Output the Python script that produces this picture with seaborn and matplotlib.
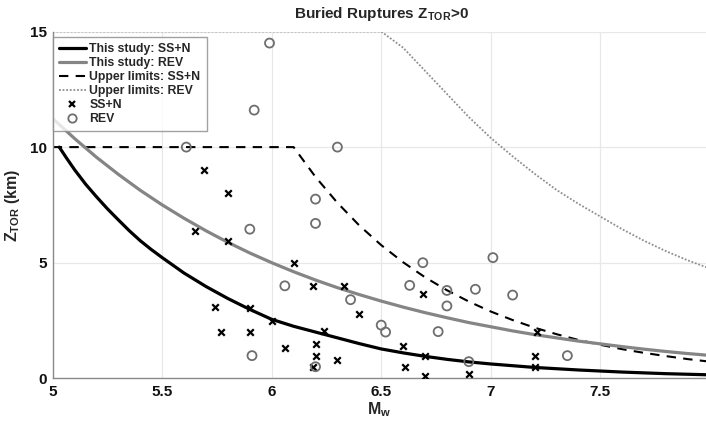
import matplotlib
matplotlib.use("Agg")
import matplotlib.pyplot as plt
import seaborn as sns
import pandas as pd
from matplotlib.lines import Line2D

# ---------------- data ----------------
ss_curve_m = [5.03, 5.06, 5.1, 5.15, 5.2, 5.25, 5.3, 5.35, 5.4, 5.45, 5.5, 5.6, 5.7, 5.8, 5.9,
              6.0, 6.1, 6.2, 6.3, 6.4, 6.5, 6.6, 6.7, 6.8, 6.9, 7.0, 7.2, 7.4, 7.6, 7.8, 8.0]
ss_curve_z = [10.0, 9.57, 9.02, 8.4, 7.85, 7.33, 6.85, 6.38, 5.95, 5.57, 5.22, 4.55, 3.97, 3.45,
              2.98, 2.55, 2.25, 2.0, 1.75, 1.5, 1.27, 1.1, 0.95, 0.82, 0.71, 0.62, 0.47, 0.36,
              0.27, 0.20, 0.15]

rev_curve_m = [5.0, 5.1, 5.2, 5.3, 5.4, 5.5, 5.6, 5.7, 5.8, 5.9, 6.0, 6.1, 6.2, 6.3, 6.4, 6.5,
               6.6, 6.7, 6.8, 6.9, 7.0, 7.1, 7.2, 7.3, 7.4, 7.5, 7.6, 7.7, 7.8, 7.9, 8.0]
rev_curve_z = [11.24, 10.37, 9.56, 8.82, 8.13, 7.50, 6.92, 6.38, 5.88, 5.42, 5.00, 4.61, 4.25, 3.92,
               3.62, 3.34, 3.08, 2.84, 2.62, 2.41, 2.23, 2.05, 1.89, 1.75, 1.61, 1.49, 1.37, 1.26,
               1.16, 1.07, 0.99]

ss_limit_m = [5.0, 6.1, 6.2, 6.3, 6.4, 6.5, 6.6, 6.7, 6.8, 6.9, 7.0, 7.1, 7.2, 7.3, 7.4, 7.5,
              7.6, 7.7, 7.8, 7.9, 8.0]
ss_limit_z = [10.0, 10.0, 8.71, 7.59, 6.61, 5.76, 5.02, 4.37, 3.81, 3.32, 2.89, 2.52, 2.19, 1.91,
              1.66, 1.45, 1.26, 1.10, 0.96, 0.83, 0.72]

rev_limit_m = [5.0, 6.5, 6.6, 6.7, 6.8, 6.9, 7.0, 7.1, 7.2, 7.3, 7.4, 7.5, 7.6, 7.7, 7.8, 7.9, 8.0]
rev_limit_z = [15.0, 15.0, 14.3, 13.3, 12.3, 11.3, 10.4, 9.6, 8.85, 8.15, 7.55, 7.0, 6.45, 5.95,
               5.5, 5.1, 4.75]

ss_pts_m = [5.69, 5.80, 5.65, 5.80, 6.10, 5.74, 5.90, 6.00, 5.77, 5.90, 6.06, 6.19, 6.33, 6.40,
            6.24, 6.20, 6.20, 6.30, 6.19, 6.69, 6.60, 6.70, 6.61, 6.70, 6.90, 7.21, 7.20, 7.20]
ss_pts_z = [9.0, 8.0, 6.35, 5.95, 5.0, 3.08, 3.03, 2.5, 2.0, 2.0, 1.32, 4.0, 4.0, 2.8,
            2.04, 1.48, 0.98, 0.79, 0.50, 3.65, 1.38, 0.98, 0.49, 0.08, 0.19, 2.02, 0.98, 0.50]

rev_pts_m = [5.99, 5.92, 5.61, 6.30, 6.20, 6.20, 5.90, 6.06, 5.91, 6.69, 6.63, 6.80, 6.93, 7.01,
             7.10, 6.80, 6.36, 6.50, 6.52, 6.76, 6.90, 7.35, 6.20]
rev_pts_z = [14.5, 11.6, 10.0, 10.0, 7.75, 6.7, 6.45, 4.0, 0.98, 5.0, 4.02, 3.8, 3.85, 5.22,
             3.6, 3.13, 3.4, 2.3, 2.0, 2.02, 0.72, 0.98, 0.5]

legend_labels = ["This study: SS+N", "This study: REV", "Upper limits: SS+N",
                 "Upper limits: REV", "SS+N", "REV"]
x_ticks = [5, 5.5, 6, 6.5, 7, 7.5]
x_tick_labels = ["5", "5.5", "6", "6.5", "7", "7.5"]
y_ticks = [0, 5, 10, 15]

# ---------------- style ----------------
sns.set_style("white")
plt.rcParams["font.family"] = ["Liberation Sans", "DejaVu Sans"]
plt.rcParams["font.weight"] = "bold"
plt.rcParams["mathtext.fontset"] = "custom"
plt.rcParams["mathtext.rm"] = "Liberation Sans"
plt.rcParams["mathtext.bf"] = "Liberation Sans:bold"

W, H = 706, 421
fig = plt.figure(figsize=(W / 100, H / 100), dpi=100)
ax = fig.add_axes([52.7 / W, 42.7 / H, 653.3 / W, 346.8 / H])

BLACK = "#000000"
GRAY = "#858585"
CIRC = "#6e6e6e"
DOT = "#8e8e8e"

sns.lineplot(x=rev_limit_m, y=rev_limit_z, ax=ax, color=DOT, lw=1.3,
             linestyle=(0, (1, 1)), errorbar=None, zorder=2)
sns.lineplot(x=ss_limit_m, y=ss_limit_z, ax=ax, color=BLACK, lw=1.5,
             linestyle=(0, (4.5, 3.5)), errorbar=None, zorder=2)
sns.lineplot(x=rev_curve_m, y=rev_curve_z, ax=ax, color=GRAY, lw=2.3, errorbar=None, zorder=3)
sns.lineplot(x=ss_curve_m, y=ss_curve_z, ax=ax, color=BLACK, lw=2.3, errorbar=None, zorder=3)
sns.scatterplot(x=ss_pts_m, y=ss_pts_z, ax=ax, marker="x", s=22, color=BLACK,
                linewidth=1.6, zorder=4)
sns.scatterplot(x=rev_pts_m, y=rev_pts_z, ax=ax, marker="o", s=42, facecolor="none",
                edgecolor=CIRC, linewidth=1.3, zorder=4)

ax.set_xlim(5, 7.983)
ax.set_ylim(0, 15)
ax.set_xticks(x_ticks)
ax.set_xticklabels(x_tick_labels)
ax.set_yticks(y_ticks)
ax.grid(True, color="#e8e8e8", lw=0.9, zorder=0)
ax.set_axisbelow(True)
for s in ["top", "right"]:
    ax.spines[s].set_visible(False)
for s in ["left", "bottom"]:
    ax.spines[s].set_color("#8a8a8a")
    ax.spines[s].set_linewidth(1.0)
ax.tick_params(direction="in", length=4, width=0.9, color="#8a8a8a",
               labelsize=11, labelcolor="#111111")
ax.tick_params(axis="x", pad=5)
ax.tick_params(axis="y", pad=4)
for lab in ax.get_xticklabels() + ax.get_yticklabels():
    lab.set_fontweight("bold")

ax.set_xlabel(r"M$_\mathbf{w}$", fontsize=11.5, fontweight="bold", labelpad=1)
ax.set_ylabel(r"Z$_\mathbf{TOR}$ (km)", fontsize=11.5, fontweight="bold", labelpad=6)
fig.text(381.7 / W, 1 - 14 / H, r"Buried Ruptures Z$_\mathbf{TOR}$>0", ha="center",
         va="center", fontsize=11, fontweight="bold")

handles = [
    Line2D([], [], color=BLACK, lw=2.3),
    Line2D([], [], color=GRAY, lw=2.3),
    Line2D([], [], color=BLACK, lw=1.5, linestyle=(0, (4.5, 3.5))),
    Line2D([], [], color=DOT, lw=1.3, linestyle=(0, (1, 1))),
    Line2D([], [], color=BLACK, marker="x", linestyle="none", markersize=4.5, mew=1.6),
    Line2D([], [], color=CIRC, marker="o", linestyle="none", markersize=6,
           markerfacecolor="none", mew=1.3),
]
leg = ax.legend(handles, legend_labels, loc="upper left", bbox_to_anchor=(0.0, 1 - 5.8 / 346.8),
                borderaxespad=0, handlelength=2.2, handletextpad=0.3,
                labelspacing=0.16, borderpad=0.5, frameon=True, fancybox=False,
                prop={"weight": "bold", "size": 8.8})
leg.get_frame().set_edgecolor("#8a8a8a")
leg.get_frame().set_linewidth(1.0)

fig.savefig("out.png", dpi=100)
